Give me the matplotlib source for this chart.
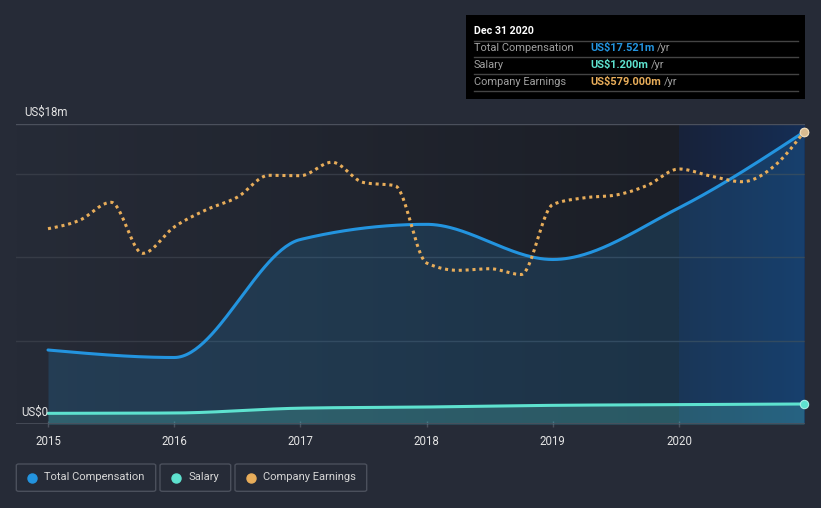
import numpy as np
import matplotlib
matplotlib.use("Agg")
import matplotlib.pyplot as plt
from matplotlib.patches import Rectangle, FancyBboxPatch
from matplotlib.colors import to_rgb
from matplotlib.lines import Line2D

plt.rcParams['font.family'] = ['Roboto', 'DejaVu Sans']

# ---------------- data ----------------
years = [2015.0, 2016.0, 2017.0, 2018.0, 2019.0, 2020.0, 2020.99]
total_comp = [4.44, 3.99, 11.07, 11.98, 9.87, 12.97, 17.521]   # US$ m
salary = [0.64, 0.66, 0.95, 1.02, 1.12, 1.16, 1.20]            # US$ m

earn_dates = [2015.0, 2015.25, 2015.5, 2015.75, 2016.0, 2016.25, 2016.5, 2016.75,
              2017.0, 2017.25, 2017.5, 2017.75, 2018.0, 2018.25, 2018.5, 2018.75,
              2019.0, 2019.25, 2019.5, 2019.75, 2020.0, 2020.25, 2020.5, 2020.75,
              2020.99]
earnings = [387.2, 403.9, 439.6, 338.4, 390.6, 424.3, 449.7, 493.1,
            492.3, 519.1, 478.8, 472.5, 319.2, 304.7, 307.9, 296.4,
            435.2, 448.5, 454.0, 473.3, 505.6, 491.7, 480.4, 510.5,
            579.0]                                              # US$ m

x_ticks = [2015, 2016, 2017, 2018, 2019, 2020]
x_tick_labels = ['2015', '2016', '2017', '2018', '2019', '2020']
y_label_values = [0, 18]
y_labels = ['US$0', 'US$18m']
grid_levels = [5, 10, 15]

tooltip_title = 'Dec 31 2020'
tooltip_rows = [('Total Compensation', 'US$17.521m'),
                ('Salary', 'US$1.200m'),
                ('Company Earnings', 'US$579.000m')]
legend_labels = ['Total Compensation', 'Salary', 'Company Earnings']

# ---------------- style ----------------
C_BG = '#262b37'
C_TC = '#2394df'
C_SAL = '#5ee2cf'
C_EARN = '#e8ad5a'
C_GRID = '#363b46'
C_AXIS = '#4b505c'
C_TEXT = '#e4e4e4'

W, H = 821, 508
fig = plt.figure(figsize=(W / 100, H / 100), dpi=100, facecolor=C_BG)


def fx(px):
    return px / W


def fy(py):
    return 1 - py / H


def monotone(x, y, n=60):
    """d3 curveMonotoneX-style cubic Hermite rendering."""
    x = np.asarray(x, float)
    y = np.asarray(y, float)
    h = np.diff(x)
    s = np.diff(y) / h
    m = np.zeros_like(y)
    for i in range(1, len(y) - 1):
        s0, s1 = s[i - 1], s[i]
        p = (s0 * h[i] + s1 * h[i - 1]) / (h[i - 1] + h[i])
        m[i] = (np.sign(s0) + np.sign(s1)) * min(abs(s0), abs(s1), 0.5 * abs(p))
    m[0] = (3 * s[0] - m[1]) / 2
    m[-1] = (3 * s[-1] - m[-2]) / 2
    xs, ys = [], []
    for i in range(len(h)):
        t = np.linspace(0, 1, n, endpoint=(i == len(h) - 1))
        h00 = 2 * t**3 - 3 * t**2 + 1
        h10 = t**3 - 2 * t**2 + t
        h01 = -2 * t**3 + 3 * t**2
        h11 = t**3 - t**2
        xs.append(x[i] + t * h[i])
        ys.append(h00 * y[i] + h10 * h[i] * m[i] + h01 * y[i + 1] + h11 * h[i] * m[i + 1])
    return np.concatenate(xs), np.concatenate(ys)


# axes geometry (pixels): left 16, right 805, top 124, bottom 424
ax = fig.add_axes([fx(16), fy(424), fx(805 - 16), 300 / H])
px_per_year = 126.2
xl0 = 2015 - 32 / px_per_year
xl1 = 2015 + (805 - 48) / px_per_year
ax.set_xlim(xl0, xl1)
ax.set_ylim(0, 18)
ax.set_facecolor('none')
for sp in ax.spines.values():
    sp.set_visible(False)


def hgrad(c0, c1, n=256):
    a = np.array(to_rgb(c0))
    b = np.array(to_rgb(c1))
    t = np.linspace(0, 1, n)[None, :, None]
    return a[None, None, :] * (1 - t) + b[None, None, :] * t


ax.imshow(hgrad(C_BG, '#1b1e26'), extent=[xl0, 2020, 0, 18], aspect='auto',
          zorder=0, interpolation='bilinear')
ax.imshow(hgrad('#18223a', '#152e55'), extent=[2020, xl1, 0, 18], aspect='auto',
          zorder=0, interpolation='bilinear')

for g in grid_levels:
    ax.axhline(g, color=C_GRID, lw=1, zorder=1)
ax.axhline(18, color=C_AXIS, lw=1, zorder=1)
ax.axhline(0, color=C_AXIS, lw=1.2, zorder=5)

# total compensation
tx, ty = monotone(years, total_comp)
ax.fill_between(tx, 0, ty, color=C_TC, alpha=0.18, lw=0, zorder=2)
ax.plot(tx, ty, color=C_TC, lw=2.2, zorder=4, solid_capstyle='round')

# salary
sx, sy = monotone(years, salary)
ax.fill_between(sx, 0, sy, color=C_SAL, alpha=0.22, lw=0, zorder=3)
ax.plot(sx, sy, color=C_SAL, lw=2.2, zorder=4, solid_capstyle='round')

ax.plot([years[-1]], [total_comp[-1]], 'o', ms=6, mfc=C_TC, mec='white', mew=0.8,
        zorder=6, clip_on=False)
ax.plot([years[-1]], [salary[-1]], 'o', ms=6, mfc=C_SAL, mec='#a8f0e6', mew=0.8,
        zorder=6, clip_on=False)

# ticks
ax.set_xticks(x_ticks)
ax.set_xticklabels(x_tick_labels, color=C_TEXT, fontsize=8.3)
ax.tick_params(axis='x', colors=C_AXIS, length=4, direction='inout', width=1,
               pad=6, labelcolor=C_TEXT)
ax.set_yticks([])

# earnings on a twin scale
ax2 = ax.twinx()
ax2.set_ylim(0, earnings[-1] * 18 / total_comp[-1])
ax2.set_xlim(xl0, xl1)
ax2.axis('off')
ex, ey = monotone(earn_dates, earnings)
ax2.plot(ex, ey, color=C_EARN, lw=2.2, dashes=(1, 1.25), dash_capstyle='butt', zorder=5)
ax2.plot([earn_dates[-1]], [earnings[-1]], 'o', ms=6, mfc='#d8bb90', mec='#f0d8b0',
         mew=0.8, zorder=7, clip_on=False)

# y labels
fig.text(fx(48), fy(412), y_labels[0], color=C_TEXT, fontsize=8.3, ha='right', va='center')
fig.text(fx(24), fy(112.5), y_labels[1], color=C_TEXT, fontsize=8.3, ha='left', va='center')

# ---------------- tooltip ----------------
fig.patches.append(Rectangle((fx(466), fy(99)), fx(805 - 466), (99 - 15) / H,
                             transform=fig.transFigure, facecolor='#000000',
                             edgecolor='none', zorder=10))
fig.text(fx(474), fy(31), tooltip_title, color='white', fontsize=7.7,
         fontweight='bold', ha='left', va='center', zorder=11)
for ly in [40.5, 57.3, 74.3, 91]:
    fig.add_artist(Line2D([fx(474), fx(798)], [fy(ly), fy(ly)], color='#444444', lw=1,
                          transform=fig.transFigure, zorder=11))
row_colors = [C_TC, C_SAL, C_EARN]
row_y = [48, 65, 82]
fig.canvas.draw()
renderer = fig.canvas.get_renderer()
for (lab, val), col, yy in zip(tooltip_rows, row_colors, row_y):
    fig.text(fx(474), fy(yy), lab, color='#a0a0a0', fontsize=7.9, ha='left',
             va='center', zorder=11)
    t = fig.text(fx(590), fy(yy), val, color=col, fontsize=7.9, fontweight='bold',
                 ha='left', va='center', zorder=11)
    bb = t.get_window_extent(renderer)
    fig.text(bb.x1 / W + fx(3), fy(yy), '/yr', color='#a0a0a0', fontsize=7.9,
             ha='left', va='center', zorder=11)

# ---------------- legend ----------------
boxes = [(16.3, 155.7), (160, 230.7), (235, 366.7)]
dots_x = [32, 176, 250.7]
text_x = [44.3, 188.3, 263.3]
for (x0, x1), dx, tx_, lab, col in zip(boxes, dots_x, text_x, legend_labels, row_colors):
    fig.patches.append(FancyBboxPatch((fx(x0), fy(491.3)), fx(x1 - x0), (491.3 - 464) / H,
                                      boxstyle='round,pad=0,rounding_size=0.003',
                                      transform=fig.transFigure, facecolor='none',
                                      edgecolor='#4b505c', lw=1))
    fig.add_artist(Line2D([fx(dx)], [fy(477.5)], marker='o', ms=6.5, color=col, lw=0,
                          transform=fig.transFigure))
    fig.text(fx(tx_), fy(477.5), lab, color='#d6d6d6', fontsize=8, ha='left', va='center')

fig.savefig('out.png', dpi=100, facecolor=C_BG)
